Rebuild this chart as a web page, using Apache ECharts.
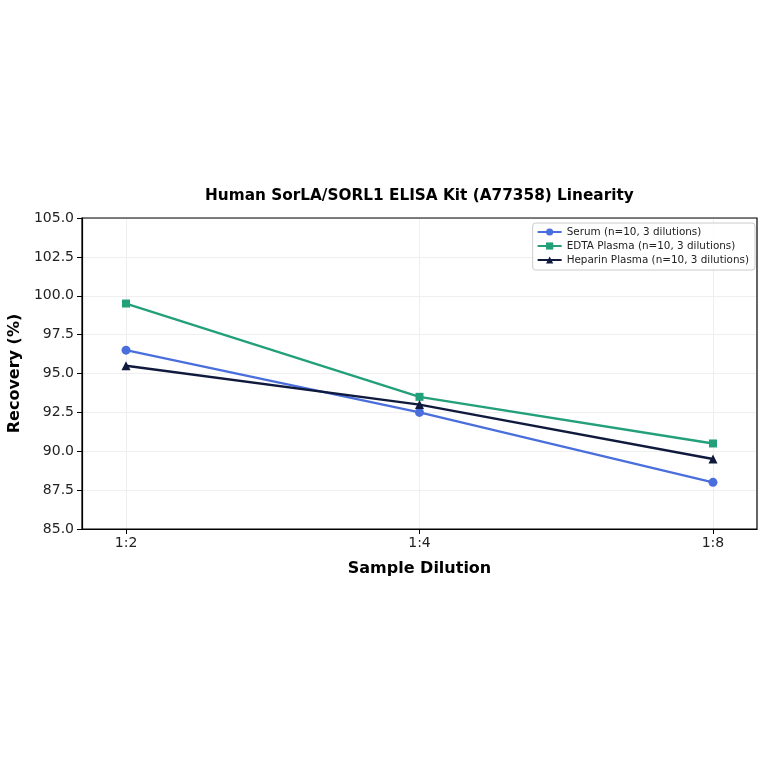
<!DOCTYPE html>
<html>
<head>
<meta charset="utf-8">
<script src="https://cdn.jsdelivr.net/npm/echarts@6/dist/echarts.min.js"></script>
<style>
  html, body { margin: 0; padding: 0; background: #fff; }
  #main { width: 764px; height: 764px; }
</style>
</head>
<body>
<div id="main"></div>
<script>
var categories = ['1:2', '1:4', '1:8'];
var seriesNames = ['Serum (n=10, 3 dilutions)', 'EDTA Plasma (n=10, 3 dilutions)', 'Heparin Plasma (n=10, 3 dilutions)'];
var serumValues = [96.5, 92.5, 88.0];
var edtaValues = [99.5, 93.5, 90.5];
var heparinValues = [95.5, 93.0, 89.5];

var colors = ['#4a6fdc', '#23a07a', '#101a3d'];
var symbols = ['circle', 'rect', 'triangle'];
var font = 'DejaVu Sans';

var chart = echarts.init(document.getElementById('main'));

// 把数组转成 [index, value]
function toPairs(arr) {
  return arr.map(function (v, i) { return [i, v]; });
}

var allValues = [serumValues, edtaValues, heparinValues];
var series = [];

// 竖向网格线 (放最底层)
series.push({
  type: 'line',
  data: [],
  silent: true,
  z: 0,
  markLine: {
    z: 0,
    symbol: 'none',
    silent: true,
    animation: false,
    label: { show: false },
    emphasis: { disabled: true },
    lineStyle: { color: '#ebebeb', width: 0.8, type: 'solid' },
    data: categories.map(function (c, i) { return { xAxis: i }; })
  }
});

allValues.forEach(function (vals, k) {
  series.push({
    name: seriesNames[k],
    type: 'line',
    data: toPairs(vals),
    symbol: symbols[k],
    symbolSize: k === 1 ? 8 : 9,
    z: 3 + k,
    lineStyle: { width: 2.4, color: colors[k] },
    itemStyle: { color: colors[k] }
  });
});

option = {
  animation: false,
  backgroundColor: '#fff',
  color: colors,
  title: {
    text: 'Human SorLA/SORL1 ELISA Kit (A77358) Linearity',
    left: 205,
    top: 189,
    padding: 0,
    textStyle: { fontFamily: font, fontSize: 15.3, fontWeight: 'bold', color: '#000' }
  },
  legend: {
    data: seriesNames,
    orient: 'vertical',
    right: 9,
    top: 223,
    itemWidth: 24,
    itemHeight: 9,
    itemGap: 4,
    padding: [4, 6, 5, 4],
    borderColor: '#cccccc',
    borderWidth: 1,
    borderRadius: 3,
    backgroundColor: 'rgba(255,255,255,0.8)',
    textStyle: { fontFamily: font, fontSize: 10.4, color: '#222' }
  },
  grid: { left: 82, right: 7, top: 218, bottom: 235, outerBoundsMode: 'none', containLabel: false },
  xAxis: {
    type: 'value',
    min: -0.15,
    max: 2.15,
    name: 'Sample Dilution',
    nameLocation: 'middle',
    nameGap: 32,
    nameTextStyle: { fontFamily: font, fontSize: 16, fontWeight: 'bold', color: '#000' },
    axisLine: { show: true, onZero: false, lineStyle: { color: '#000', width: 1.2 } },
    axisTick: { show: true, customValues: [0, 1, 2], length: 5, lineStyle: { color: '#000' } },
    axisLabel: {
      customValues: [0, 1, 2],
      formatter: function (v) { return categories[Math.round(v)]; },
      fontFamily: font, fontSize: 14, color: '#222', margin: 7
    },
    splitLine: { show: false }
  },
  yAxis: {
    type: 'value',
    min: 85,
    max: 105,
    interval: 2.5,
    name: 'Recovery (%)',
    nameLocation: 'middle',
    nameGap: 58,
    nameTextStyle: { fontFamily: font, fontSize: 16, fontWeight: 'bold', color: '#000' },
    axisLine: { show: true, onZero: false, lineStyle: { color: '#000', width: 1.2 } },
    axisTick: { show: true, length: 5, lineStyle: { color: '#000' } },
    axisLabel: {
      formatter: function (v) { return v.toFixed(1); },
      fontFamily: font, fontSize: 14, color: '#222', margin: 8
    },
    splitLine: { show: true, lineStyle: { color: '#ebebeb', width: 0.8 } }
  },
  series: series
};

chart.setOption(option);

// 右侧和顶部边框
var p0 = chart.convertToPixel({ gridIndex: 0 }, [-0.15, 105]);
var p1 = chart.convertToPixel({ gridIndex: 0 }, [2.15, 85]);
chart.setOption({
  graphic: [{
    type: 'rect',
    silent: true,
    z: 0,
    shape: { x: p0[0], y: p0[1], width: p1[0] - p0[0], height: p1[1] - p0[1] },
    style: { fill: 'none', stroke: '#000', lineWidth: 1.2 }
  }]
});
</script>
</body>
</html>
